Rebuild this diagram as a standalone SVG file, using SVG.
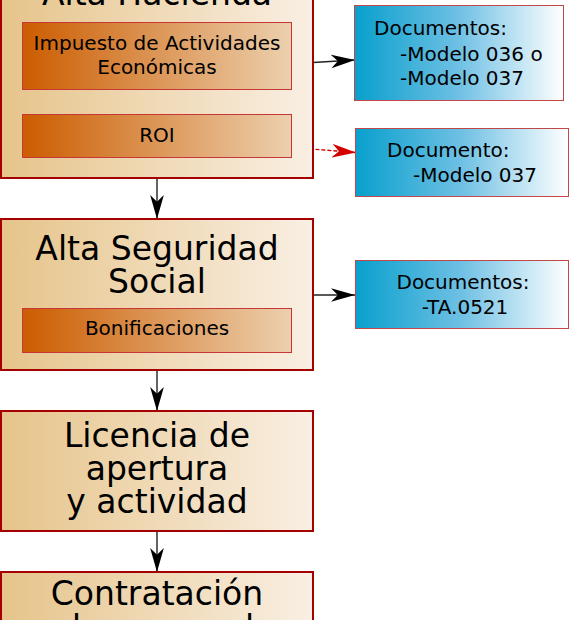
<svg xmlns="http://www.w3.org/2000/svg" width="570" height="620" viewBox="0 0 570 620">
<defs>
<linearGradient id="gMain" x1="0" y1="0" x2="1" y2="0">
<stop offset="0" stop-color="#e6c48a"/>
<stop offset="1" stop-color="#f9efe3"/>
</linearGradient>
<linearGradient id="gSub" x1="0" y1="0" x2="1" y2="0">
<stop offset="0" stop-color="#cc5c00"/>
<stop offset="1" stop-color="#ecd0ae"/>
</linearGradient>
<linearGradient id="gDoc" x1="0" y1="0" x2="1" y2="0">
<stop offset="0" stop-color="#08a0cd"/>
<stop offset="0.5" stop-color="#6fc0e4"/>
<stop offset="1" stop-color="#ffffff"/>
</linearGradient>
<marker id="arr" markerUnits="userSpaceOnUse" viewBox="-5 -5 17.5 10" markerWidth="24" markerHeight="14" refX="12.5" refY="0" orient="auto">
<path d="M12.5,0 L-5,-5 L0,0 L-5,5 Z" fill="#000"/>
</marker>
<marker id="arrRed" markerUnits="userSpaceOnUse" viewBox="-5 -5 17.5 10" markerWidth="24" markerHeight="14" refX="12.5" refY="0" orient="auto">
<path d="M12.5,0 L-5,-5 L0,0 L-5,5 Z" fill="#d40000"/>
</marker>
</defs>
<style>
.main{fill:url(#gMain);stroke:#a40000;stroke-width:2}
.sub{fill:url(#gSub);stroke:#c83737;stroke-width:1}
.doc{fill:url(#gDoc);stroke:#c04848;stroke-width:1}
.big{font-family:"DejaVu Sans",sans-serif;font-size:33px;fill:#000;text-anchor:middle}
.sm{font-family:"DejaVu Sans",sans-serif;font-size:20px;fill:#000;text-anchor:middle}
.dt{font-family:"DejaVu Sans",sans-serif;font-size:20px;fill:#000}
.ln{fill:none;stroke:#222;stroke-width:1.4;marker-end:url(#arr)}
.lnr{fill:none;stroke:#d40000;stroke-width:1.4;stroke-dasharray:4,2;marker-end:url(#arrRed)}
</style>
<g id="connectors">
<path class="ln" d="M313,62.5 L355,60"/>
<path class="lnr" d="M291.5,147.5 L356,152.5"/>
<path class="ln" d="M157,179 V219"/>
<path class="ln" d="M313,295 H355"/>
<path class="ln" d="M157,371 V411"/>
<path class="ln" d="M157,532 V572"/>
</g>
<g id="alta-hacienda">
<rect class="main" x="1" y="-40" width="312" height="218"/>
<text class="big" x="157" y="5">Alta Hacienda</text>
</g>
<g id="iae">
<rect class="sub" x="22.5" y="22.5" width="269" height="67"/>
<text class="sm" x="157" y="50">Impuesto de Actividades</text>
<text class="sm" x="157" y="74">Económicas</text>
</g>
<g id="roi">
<rect class="sub" x="22.5" y="114.5" width="269" height="43"/>
<text class="sm" x="157" y="142">ROI</text>
</g>
<g id="doc-hacienda">
<rect class="doc" x="354.5" y="5.5" width="209" height="95"/>
<text class="dt" x="374" y="35">Documentos:</text>
<text class="dt" x="400" y="61">-Modelo 036 o</text>
<text class="dt" x="400" y="85">-Modelo 037</text>
</g>
<g id="doc-roi">
<rect class="doc" x="355.5" y="128.5" width="213" height="68"/>
<text class="dt" x="387" y="157">Documento:</text>
<text class="dt" x="413" y="182">-Modelo 037</text>
</g>
<g id="alta-ss">
<rect class="main" x="1" y="219" width="312" height="151"/>
<text class="big" x="157" y="260">Alta Seguridad</text>
<text class="big" x="157" y="293">Social</text>
</g>
<g id="bonificaciones">
<rect class="sub" x="22.5" y="308.5" width="269" height="44"/>
<text class="sm" x="157" y="335">Bonificaciones</text>
</g>
<g id="doc-ss">
<rect class="doc" x="355.5" y="260.5" width="213" height="68"/>
<text class="sm" x="463" y="289">Documentos:</text>
<text class="sm" x="465" y="314">-TA.0521</text>
</g>
<g id="licencia">
<rect class="main" x="1" y="411" width="312" height="120"/>
<text class="big" x="157" y="447">Licencia de</text>
<text class="big" x="157" y="480">apertura</text>
<text class="big" x="157" y="513">y actividad</text>
</g>
<g id="contratacion">
<rect class="main" x="1" y="572" width="312" height="120"/>
<text class="big" x="157" y="605">Contratación</text>
<text class="big" x="157" y="639">de personal</text>
</g>
</svg>
